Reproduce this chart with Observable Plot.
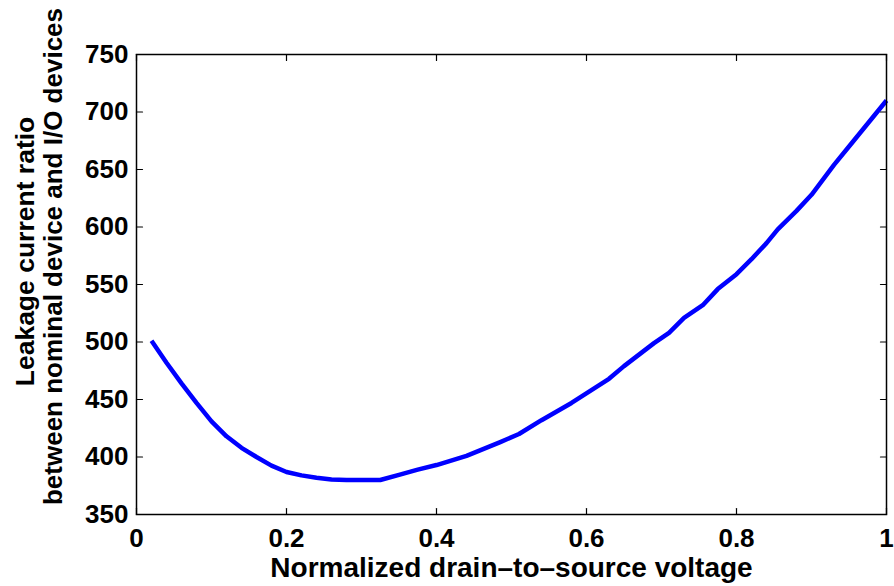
<!DOCTYPE html>
<html>
<head>
<meta charset="utf-8">
<script src="https://cdn.jsdelivr.net/npm/d3@7"></script>
<script src="https://cdn.jsdelivr.net/npm/@observablehq/plot@0.6"></script>
<style>
  html, body { margin: 0; padding: 0; background: #fff; }
</style>
</head>
<body>
<div id="chart"></div>
<script>
const voltage = [0.02, 0.04, 0.06, 0.08, 0.10, 0.12, 0.14, 0.16, 0.18, 0.20, 0.22, 0.24, 0.26, 0.28, 0.30, 0.325, 0.35, 0.375, 0.40, 0.44, 0.485, 0.51, 0.54, 0.58, 0.63, 0.65, 0.67, 0.69, 0.71, 0.73, 0.755, 0.775, 0.80, 0.82, 0.84, 0.855, 0.88, 0.90, 0.915, 0.93, 0.95, 0.975, 1.0];
const ratio   = [501, 482, 464, 447, 431, 418, 408, 400, 392.5, 387, 384, 382, 380.5, 380, 380, 380, 384.5, 389, 393, 401, 413, 420, 432, 447, 468, 479, 489, 499, 508, 521, 532, 546, 559, 572, 586, 598, 614, 628, 641, 654, 670, 690, 710];

const xTicks = [0, 0.2, 0.4, 0.6, 0.8, 1];
const xTickLabels = ["0", "0.2", "0.4", "0.6", "0.8", "1"];
const yTicks = [350, 400, 450, 500, 550, 600, 650, 700, 750];
const yTickLabels = ["350", "400", "450", "500", "550", "600", "650", "700", "750"];

const xLabel = "Normalized drain\u2013to\u2013source voltage";
const yLabel1 = "Leakage current ratio";
const yLabel2 = "between nominal device and I/O devices";

const data = voltage.map((v, i) => ({v, r: ratio[i]}));

const tickShape = {draw(ctx, l) { ctx.moveTo(0, 0); ctx.lineTo(0, -l); }};
const tickOpts = {length: 6, anchor: "start", shape: tickShape, stroke: "black", strokeWidth: 1.2};

const chart = Plot.plot({
  width: 894,
  height: 586,
  marginLeft: 136,
  marginRight: 8,
  marginTop: 54,
  marginBottom: 72,
  style: {fontFamily: "'Liberation Sans', Arial, Helvetica, sans-serif", fontWeight: "bold", fontSize: "26px", background: "white", color: "black"},
  x: {domain: [0, 1], label: null},
  y: {domain: [350, 750], label: null},
  marks: [
    Plot.line(data, {x: "v", y: "r", stroke: "#0000ff", strokeWidth: 4.5, strokeLinejoin: "round", strokeLinecap: "butt"}),
    Plot.frame({stroke: "black", strokeWidth: 1.5}),
    Plot.vector(xTicks, {x: d => d, frameAnchor: "bottom", rotate: 0, ...tickOpts}),
    Plot.vector(xTicks, {x: d => d, frameAnchor: "top", rotate: 180, ...tickOpts}),
    Plot.vector(yTicks, {y: d => d, frameAnchor: "left", rotate: 90, ...tickOpts}),
    Plot.vector(yTicks, {y: d => d, frameAnchor: "right", rotate: -90, ...tickOpts}),
    Plot.axisX({ticks: xTicks, tickSize: 0, tickPadding: 14, tickFormat: (d) => xTickLabels[xTicks.indexOf(d)], fontSize: 26, fontWeight: "bold", label: null}),
    Plot.axisY({ticks: yTicks, tickSize: 0, tickPadding: 8, tickFormat: (d) => yTickLabels[yTicks.indexOf(d)], fontSize: 26, fontWeight: "bold", label: null}),
    Plot.text([xLabel], {frameAnchor: "bottom", text: d => d, dy: 54, lineAnchor: "middle", textAnchor: "middle", fontSize: 28, fontWeight: "bold", fill: "black"}),
    Plot.text([yLabel1], {frameAnchor: "left", text: d => d, rotate: -90, dx: -111, dy: -33, lineAnchor: "middle", textAnchor: "middle", fontSize: 26.5, fontWeight: "bold", fill: "black"}),
    Plot.text([yLabel2], {frameAnchor: "left", text: d => d, rotate: -90, dx: -83, dy: -28, lineAnchor: "middle", textAnchor: "middle", fontSize: 26, fontWeight: "bold", fill: "black"})
  ]
});
document.getElementById("chart").appendChild(chart);
</script>
</body>
</html>
